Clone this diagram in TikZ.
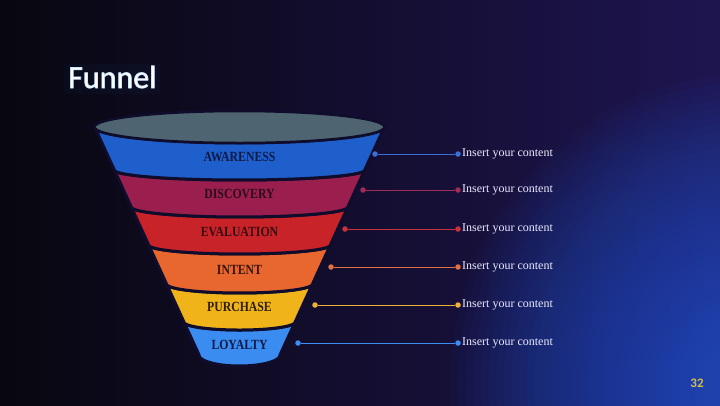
\documentclass[tikz,border=0pt]{standalone}
\usepackage{fontspec}
\setmainfont{Liberation Serif}
\newfontfamily\carlito{Carlito}
\newfontfamily\labfont[FakeStretch=0.84]{Liberation Serif}
\definecolor{bgA}{HTML}{08070F}
\definecolor{bgB}{HTML}{1E1550}
\definecolor{glowblue}{HTML}{1E5AD8}
\definecolor{outl}{HTML}{100C2C}
\definecolor{cTop}{HTML}{4E6470}
\definecolor{cAw}{HTML}{1F5FCC}
\definecolor{cDi}{HTML}{9A1F4E}
\definecolor{cEv}{HTML}{C82329}
\definecolor{cIn}{HTML}{E8672E}
\definecolor{cPu}{HTML}{F0B31A}
\definecolor{cLo}{HTML}{3A8CF0}
\definecolor{lAw}{HTML}{3B6FD4}
\definecolor{lDi}{HTML}{A32B57}
\definecolor{lEv}{HTML}{C8323C}
\definecolor{lIn}{HTML}{E27045}
\definecolor{lPu}{HTML}{F0B234}
\definecolor{lLo}{HTML}{3D8EF2}
\definecolor{tAw}{HTML}{0E1A48}
\definecolor{tDi}{HTML}{2E0A1C}
\definecolor{tEv}{HTML}{3A0A10}
\definecolor{tIn}{HTML}{3A140A}
\definecolor{tPu}{HTML}{2E1E05}
\definecolor{tLo}{HTML}{0E1A48}
\definecolor{pgnum}{HTML}{D6BD4C}
\tikzset{
  lab/.style={font=\labfont\bfseries\fontsize{14}{15}\selectfont, inner sep=0pt},
  dotn/.style={circle, fill=#1, inner sep=0pt, minimum size=5.5pt},
  conn/.style={draw=#1, line width=1pt},
  info/.style={font=\fontsize{12}{13}\selectfont, text=white!92!blue, anchor=west, inner sep=0pt},
  band/.style={fill=#1, draw=outl, line width=3pt, line join=round},
  ttl/.style={font=\carlito\fontsize{32}{34}\selectfont, anchor=base west, inner sep=0pt},
}
\begin{document}
\begin{tikzpicture}[x=1pt,y=-1pt]
\useasboundingbox (0,0) rectangle (720,405);
% background
\fill[left color=bgA, right color=bgB] (0,0) rectangle (720,405);
\begin{scope}
\clip (0,0) rectangle (720,405);
\foreach \r in {310,302,...,20}
  \fill[glowblue, opacity=0.04] (745,385) ellipse [x radius={0.95*\r}, y radius={\r}];
\end{scope}
% funnel bands (bottom first)
\foreach \yt/\rt/\yb/\rb/\col in {322/8/355/11/cLo, 284/9/322/8/cPu, 245/9/284/9/cIn, 207/10/245/9/cEv, 170/10/207/10/cDi, 127/16/170/10/cAw} {
  \pgfmathsetmacro\wt{383-0.458*(\yt-130)-239.5}
  \pgfmathsetmacro\wb{383-0.458*(\yb-130)-239.5}
  \path[band=\col]
    plot[domain=180:0, samples=40, variable=\t] ({239.5+\wt*cos(\t)},{\yt+\rt*sin(\t)})
    -- plot[domain=0:180, samples=40, variable=\t] ({239.5+\wb*cos(\t)},{\yb+\rb*sin(\t)}) -- cycle;
}
\filldraw[fill=cTop, draw=outl, line width=2.5pt] (239.5,127) ellipse [x radius=145, y radius=16];
% labels
\node[lab, text=tAw] (n1) at (239.5,157) {AWARENESS};
\node[lab, text=tDi] (n2) at (239.5,194) {DISCOVERY};
\node[lab, text=tEv] (n3) at (239.5,232) {EVALUATION};
\node[lab, text=tIn] (n4) at (239.5,270) {INTENT};
\node[lab, text=tPu] (n5) at (239.5,307) {PURCHASE};
\node[lab, text=tLo] (n6) at (239.5,345) {LOYALTY};
% connectors
\foreach \i/\xa/\y/\c in {1/375/154/lAw, 2/363/190/lDi, 3/345/229/lEv, 4/331/267/lIn, 5/315/305/lPu, 6/298/343/lLo} {
  \node[dotn=\c] (a\i) at (\xa,\y) {};
  \node[dotn=\c] (b\i) at (458,\y) {};
  \draw[conn=\c] (a\i) -- (b\i);
  \node[info] (t\i) at (462,\y) {Insert your content};
}
% title with glow
\fill[cyan!40!blue, opacity=0.05] (64,64) rectangle (160,94);
\node[ttl, text=white] (title) at (68,88) {\special{pdf:literal direct 2 Tr 0.7 w 0.8 0.9 1 RG}Funnel\special{pdf:literal direct 0 Tr}};
% page number
\node[font=\carlito\bfseries\fontsize{13}{14}\selectfont, text=pgnum, inner sep=0pt] (pg) at (697,383) {32};
\end{tikzpicture}
\end{document}
